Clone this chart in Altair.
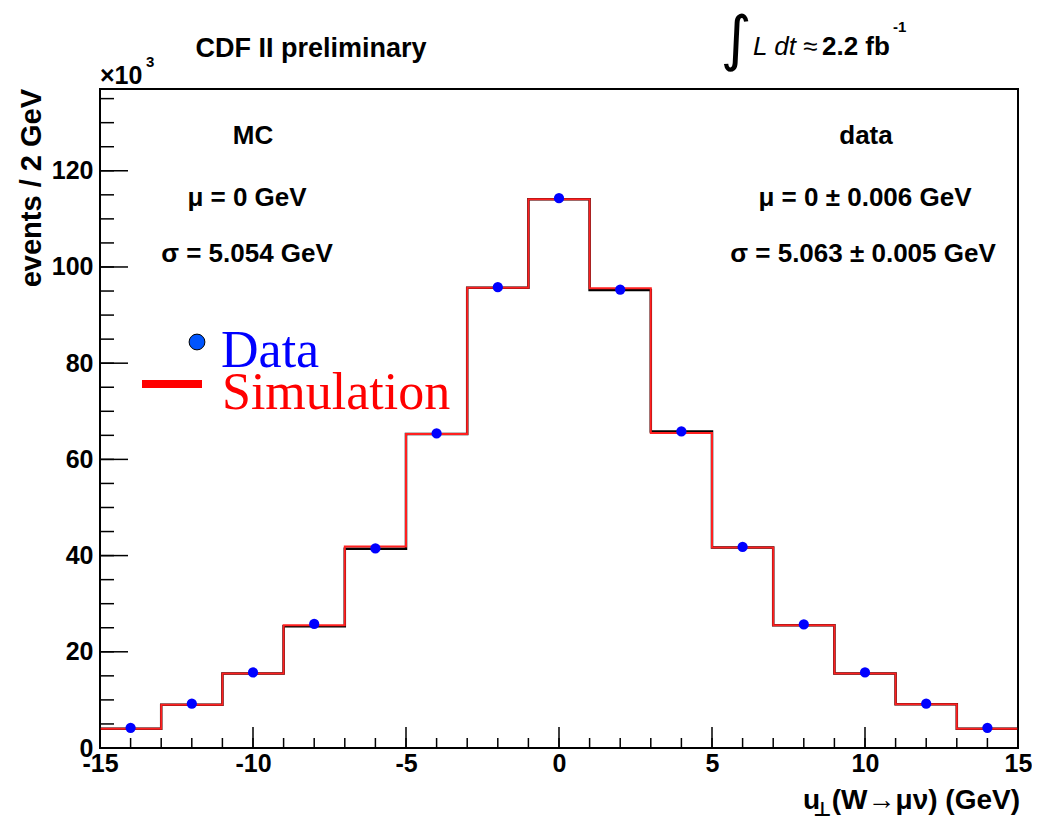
import altair as alt
import pandas as pd

# ---------------- data ----------------
bin_centers = [-14, -12, -10, -8, -6, -4, -2, 0, 2, 4, 6, 8, 10, 12, 14]
bin_width = 2
sim_values = [4.0, 9.0, 15.5, 25.5, 41.9, 65.3, 95.7, 114.1, 95.6, 65.5, 41.7, 25.5, 15.5, 9.1, 4.0]
data_hist_values = [4.0, 9.0, 15.5, 25.3, 41.4, 65.3, 95.7, 114.1, 95.2, 65.8, 41.7, 25.5, 15.5, 9.1, 4.0]
data_values = [4.2, 9.2, 15.7, 25.8, 41.5, 65.4, 95.8, 114.3, 95.3, 65.8, 41.8, 25.7, 15.7, 9.2, 4.2]

x_major = [-15, -10, -5, 0, 5, 10, 15]
x_minor = list(range(-15, 16))
y_major = [0, 20, 40, 60, 80, 100, 120]
y_minor = list(range(0, 136, 5))

X_DOMAIN = [-15, 15]
Y_DOMAIN = [0, 137]

W, H = 918, 659
FONT = "Liberation Sans"

xs = alt.Scale(domain=X_DOMAIN, nice=False, zero=False)
ys = alt.Scale(domain=Y_DOMAIN, nice=False, zero=False)

x_axis = alt.Axis(values=x_major, labelFont=FONT, labelFontWeight="bold", labelFontSize=25,
                  labelColor="black", labelPadding=3, labelFlush=False, labelOverlap=False,
                  labelExpr="toString(datum.value)",
                  domain=False, ticks=False, grid=False, title=None)
y_axis = alt.Axis(values=y_major, labelFont=FONT, labelFontWeight="bold", labelFontSize=25,
                  labelColor="black", labelPadding=7, labelOverlap=False,
                  labelExpr="toString(datum.value)",
                  domain=False, ticks=False, grid=False, title=None)


def step_frame(vals):
    edges = [c - bin_width / 2 for c in bin_centers] + [bin_centers[-1] + bin_width / 2]
    return pd.DataFrame({"x": edges, "y": list(vals) + [vals[-1]]})


black_hist = alt.Chart(step_frame(data_hist_values)).mark_line(
    interpolate="step-after", color="black", strokeWidth=2.5
).encode(x=alt.X("x:Q", scale=xs, axis=x_axis), y=alt.Y("y:Q", scale=ys, axis=y_axis))

red_hist = alt.Chart(step_frame(sim_values)).mark_line(
    interpolate="step-after", color="#ff2020", strokeWidth=2
).encode(x=alt.X("x:Q", scale=xs), y=alt.Y("y:Q", scale=ys))

points = alt.Chart(pd.DataFrame({"x": bin_centers, "y": data_values})).mark_circle(
    color="#0000ff", size=105, opacity=1
).encode(x=alt.X("x:Q", scale=xs), y=alt.Y("y:Q", scale=ys))


def xticks(vals, length):
    return alt.Chart(pd.DataFrame({"v": vals})).mark_rule(color="black", strokeWidth=1.5).encode(
        x=alt.X("v:Q", scale=xs), y=alt.value(H), y2=alt.value(H - length))


def yticks(vals, length):
    return alt.Chart(pd.DataFrame({"v": vals})).mark_rule(color="black", strokeWidth=1.5).encode(
        y=alt.Y("v:Q", scale=ys), x=alt.value(0), x2=alt.value(length))


def txt(t, x, y, size, weight="bold", align="left", font=FONT, color="black",
        angle=0, style="normal", baseline="alphabetic"):
    return alt.Chart(pd.DataFrame({"t": [t]})).mark_text(
        font=font, fontSize=size, fontWeight=weight, align=align, color=color,
        angle=angle, fontStyle=style, baseline=baseline
    ).encode(text="t:N", x=alt.value(x), y=alt.value(y))


texts = [
    txt("CDF II preliminary", 211, -32, 27, align="center"),
    txt("\u00d710", 0, -5, 25),
    txt("3", 46, -22, 15),
    txt("\u222b", 636, -48, 60, weight="normal", align="center", baseline="middle",
        font="DejaVu Sans"),
    txt("L dt \u2248", 653, -34, 26, weight="normal", style="italic"),
    txt("2.2 fb", 722, -34, 26),
    txt("-1", 793, -57, 15),
    txt("MC", 153, 55, 26, align="center"),
    txt("\u03bc = 0 GeV", 147, 117, 26, align="center"),
    txt("\u03c3 = 5.054 GeV", 147, 173, 26, align="center"),
    txt("data", 766, 55, 26, align="center"),
    txt("\u03bc = 0 \u00b1 0.006 GeV", 765, 117, 26, align="center"),
    txt("\u03c3 = 5.063  \u00b1 0.005 GeV", 763, 173, 26, align="center"),
    txt("events / 2 GeV", -68, 0, 29, align="right", angle=270, baseline="middle"),
    txt("(W\u2192\u03bc\u03bd) (GeV)", 920, 720, 28, align="right"),
    txt("u", 703, 720, 28),
    txt("\u22a5", 713, 727, 20, font="DejaVu Sans"),
    txt("Data", 121, 278, 52, weight="normal", font="Liberation Serif", color="#0000ff"),
    txt("Simulation", 122, 320, 52, weight="normal", font="Liberation Serif", color="#ff0000"),
]

legend_line = alt.Chart(pd.DataFrame({"a": [0]})).mark_rule(color="#ff0000", strokeWidth=8).encode(
    x=alt.value(42), x2=alt.value(102), y=alt.value(295))
legend_dot = alt.Chart(pd.DataFrame({"a": [0]})).mark_point(
    filled=True, color="#0055ff", stroke="black", strokeWidth=1, size=250, shape="circle", opacity=1
).encode(x=alt.value(97), y=alt.value(253))

chart = alt.layer(
    black_hist, red_hist, points,
    xticks(x_major, 21), xticks(x_minor, 10),
    yticks(y_major, 28), yticks(y_minor, 14),
    legend_line, legend_dot,
    *texts
).properties(
    width=W, height=H,
    autosize=alt.AutoSizeParams(type="none"),
    padding={"left": 92, "top": 81, "right": 14, "bottom": 71},
    background="white",
).configure_view(stroke="black", strokeWidth=2)

chart.save("out.html", embed_options={"renderer": "svg", "actions": False})
